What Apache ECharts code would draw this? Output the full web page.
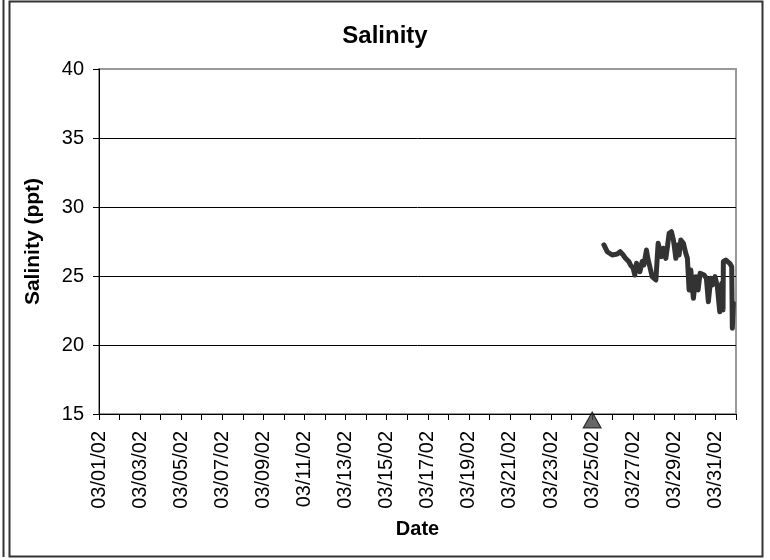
<!DOCTYPE html>
<html>
<head>
<meta charset="utf-8">
<script src="https://cdn.jsdelivr.net/npm/echarts@6/dist/echarts.min.js"></script>
<style>
  html, body { margin: 0; padding: 0; background: #fff; }
  #chart { width: 770px; height: 560px; }
</style>
</head>
<body>
<div id="chart"></div>
<script>
// salinity readings (ppt), logger times in March 2002
const times = [
  "03/25 13:44", "03/25 17:35", "03/25 23:25", "03/26 05:15", "03/26 08:44",
  "03/26 12:14", "03/26 14:56", "03/26 18:53", "03/26 20:46", "03/26 23:54",
  "03/27 01:54", "03/27 03:46", "03/27 05:24", "03/27 07:44", "03/27 10:23",
  "03/27 12:23", "03/27 15:25", "03/27 17:02", "03/27 19:23", "03/27 22:03",
  "03/28 02:23", "03/28 04:15", "03/28 05:04", "03/28 07:24", "03/28 08:54",
  "03/28 11:14", "03/28 14:02", "03/28 15:55", "03/28 17:53", "03/28 20:34",
  "03/28 22:54", "03/29 00:32", "03/29 01:42", "03/29 03:35", "03/29 05:33",
  "03/29 07:32", "03/29 10:34", "03/29 13:22", "03/29 15:14", "03/29 17:13",
  "03/29 19:12", "03/29 22:14", "03/30 01:02", "03/30 03:43", "03/30 06:03",
  "03/30 10:42", "03/30 13:24", "03/30 15:43", "03/30 18:31", "03/30 20:24",
  "03/30 23:33", "03/31 02:14", "03/31 05:01", "03/31 07:21", "03/31 08:53",
  "03/31 09:13", "03/31 12:01", "03/31 16:41", "03/31 19:00", "03/31 19:42",
  "03/31 20:53"
];
const salinity = [
  27.25, 26.76, 26.52, 26.59, 26.76,
  26.52, 26.28, 26.04, 25.80, 25.56,
  25.07, 25.92, 25.67, 25.31, 26.04,
  25.80, 26.88, 26.28, 25.67, 24.95,
  24.71, 24.59, 27.37, 27.49, 26.40,
  27.01, 26.28, 27.12, 28.09, 28.21,
  27.61, 26.88, 26.28, 27.25, 26.52,
  27.61, 27.37, 26.64, 26.28, 23.99,
  25.43, 23.38, 24.95, 23.99, 25.20,
  25.07, 24.83, 23.14, 24.83, 24.35,
  24.95, 24.22, 22.41, 24.47, 22.54,
  26.04, 26.16, 25.92, 25.67, 21.21,
  23.02
];
// deployment marker on the date axis
const markerDate = "03/25 00:00";
const markerValue = 15;

const yTicks = { min: 15, max: 40, step: 5 };
const DAY = 86400000;
const xStart = Date.UTC(2002, 2, 1);
const xEnd = Date.UTC(2002, 3, 1);

const toMs = (s) => {
  const [md, hm] = s.split(" ");
  const [m, d] = md.split("/").map(Number);
  const [h, mi] = hm.split(":").map(Number);
  return Date.UTC(2002, m - 1, d, h, mi);
};
const pad = (n) => (n < 10 ? "0" + n : "" + n);

const chart = echarts.init(document.getElementById("chart"));
const font = "Liberation Sans, Arial, sans-serif";

chart.setOption({
  animation: false,
  title: {
    text: "Salinity",
    left: "center",
    top: 19,
    textStyle: { fontFamily: font, fontSize: 24, fontWeight: "bold", color: "#000" }
  },
  grid: {
    left: 99, right: 34, top: 69, bottom: 146,
    show: true, borderColor: "#999", borderWidth: 2, backgroundColor: "#fff"
  },
  xAxis: {
    type: "value",
    min: xStart,
    max: xEnd,
    interval: DAY,
    name: "Date",
    nameLocation: "middle",
    nameGap: 105,
    nameTextStyle: { fontFamily: font, fontSize: 20, fontWeight: "bold", color: "#000" },
    axisLine: { lineStyle: { color: "#000", width: 1 } },
    axisTick: { length: 6, lineStyle: { color: "#000" } },
    splitLine: { show: false },
    axisLabel: {
      rotate: 90,
      margin: 17,
      fontFamily: font,
      fontSize: 20,
      color: "#000",
      formatter: (v) => {
        const idx = Math.round((v - xStart) / DAY);
        if (idx % 2 !== 0 || v >= xEnd) return "";
        const d = new Date(v);
        return pad(d.getUTCMonth() + 1) + "/" + pad(d.getUTCDate()) + "/02";
      }
    }
  },
  yAxis: {
    type: "value",
    min: yTicks.min,
    max: yTicks.max,
    interval: yTicks.step,
    name: "Salinity (ppt)",
    nameLocation: "middle",
    nameGap: 55,
    nameTextStyle: { fontFamily: font, fontSize: 21, fontWeight: "bold", color: "#000" },
    axisLine: { show: true, lineStyle: { color: "#000", width: 1 } },
    axisTick: { show: true, length: 6, lineStyle: { color: "#000" } },
    axisLabel: { margin: 15, fontFamily: font, fontSize: 20, color: "#000" },
    splitLine: { show: true, showMaxLine: false, lineStyle: { color: "#000", width: 1 } }
  },
  graphic: [
    { type: "line", shape: { x1: 3.5, y1: 0, x2: 3.5, y2: 557 }, style: { stroke: "#333", lineWidth: 2 } },
    { type: "rect", shape: { x: 9.5, y: 1.5, width: 753, height: 555 }, style: { fill: null, stroke: "#333", lineWidth: 2 }, z: -1 }
  ],
  series: [
    {
      type: "line",
      data: times.map((t, i) => [toMs(t), salinity[i]]),
      showSymbol: false,
      symbol: "none",
      lineStyle: { color: "#333", width: 5, join: "round", cap: "round" },
      z: 3
    },
    {
      type: "scatter",
      data: [[toMs(markerDate), markerValue]],
      symbol: "triangle",
      symbolSize: [18, 16],
      symbolOffset: [0, 6],
      clip: false,
      itemStyle: { color: "#404040", borderColor: "#000", borderWidth: 1 },
      z: 5
    }
  ]
});
</script>
</body>
</html>
